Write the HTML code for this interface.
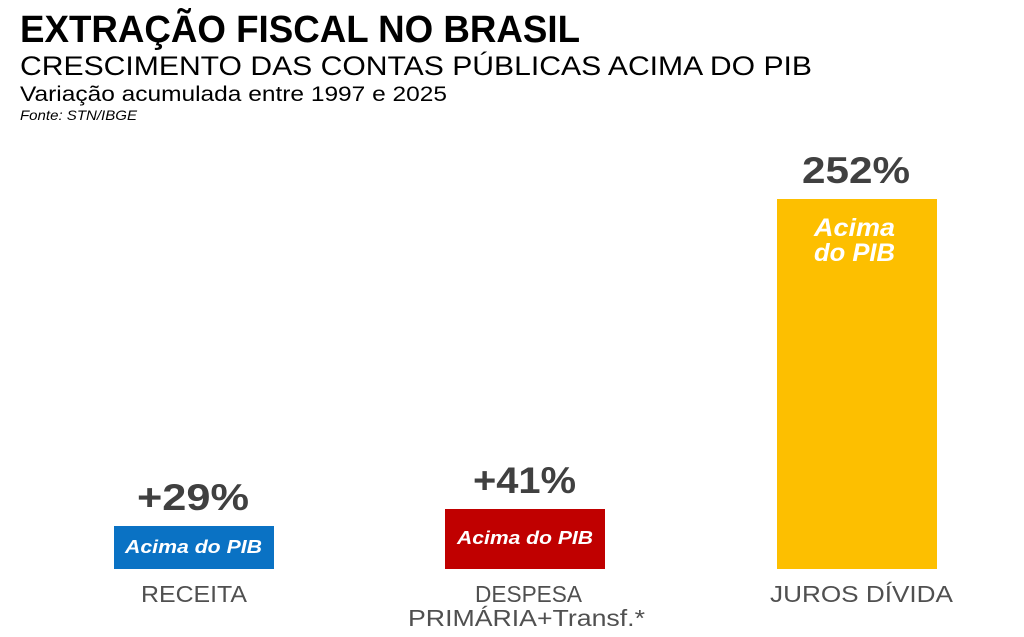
<!DOCTYPE html>
<html><head><meta charset="utf-8"><style>
html,body{margin:0;padding:0;background:#fff;}
svg{display:block;}
text{font-family:"Liberation Sans",sans-serif;}
</style></head><body>
<svg width="1024" height="637" viewBox="0 0 1024 637" xmlns="http://www.w3.org/2000/svg">
<rect width="1024" height="637" fill="#fff"/>
<text x="20" y="42" font-size="38" font-weight="bold" fill="#000" textLength="560" lengthAdjust="spacingAndGlyphs">EXTRAÇÃO FISCAL NO BRASIL</text>
<text x="20" y="75" font-size="27" fill="#000" textLength="792" lengthAdjust="spacingAndGlyphs">CRESCIMENTO DAS CONTAS PÚBLICAS ACIMA DO PIB</text>
<text x="20" y="101" font-size="21" fill="#000" textLength="427" lengthAdjust="spacingAndGlyphs">Variação acumulada entre 1997 e 2025</text>
<text x="20" y="120" font-size="14" font-style="italic" fill="#000" textLength="117" lengthAdjust="spacingAndGlyphs">Fonte: STN/IBGE</text>

<rect x="114" y="526" width="160" height="43" fill="#0a72c4"/>
<rect x="445" y="509" width="160" height="60" fill="#c00000"/>
<rect x="777" y="199" width="160" height="370" fill="#fdbf00"/>

<text x="137" y="510" font-size="37" font-weight="bold" fill="#404040" textLength="112" lengthAdjust="spacingAndGlyphs">+29%</text>
<text x="473" y="493" font-size="37" font-weight="bold" fill="#404040" textLength="103" lengthAdjust="spacingAndGlyphs">+41%</text>
<text x="802" y="183" font-size="37" font-weight="bold" fill="#404040" textLength="108" lengthAdjust="spacingAndGlyphs">252%</text>

<text x="125" y="553" font-size="18" font-weight="bold" font-style="italic" fill="#fff" textLength="137" lengthAdjust="spacingAndGlyphs">Acima do PIB</text>
<text x="457" y="544" font-size="18" font-weight="bold" font-style="italic" fill="#fff" textLength="136" lengthAdjust="spacingAndGlyphs">Acima do PIB</text>
<text x="814" y="236" font-size="25" font-weight="bold" font-style="italic" fill="#fff" textLength="81" lengthAdjust="spacingAndGlyphs">Acima</text>
<text x="814" y="261" font-size="25" font-weight="bold" font-style="italic" fill="#fff" textLength="81" lengthAdjust="spacingAndGlyphs">do PIB</text>

<text x="141" y="602" font-size="23" fill="#505050" textLength="106" lengthAdjust="spacingAndGlyphs">RECEITA</text>
<text x="475" y="602" font-size="23" fill="#505050" textLength="107" lengthAdjust="spacingAndGlyphs">DESPESA</text>
<text x="408" y="626" font-size="23" fill="#505050" textLength="237" lengthAdjust="spacingAndGlyphs">PRIMÁRIA+Transf.*</text>
<text x="770" y="602" font-size="23" fill="#505050" textLength="183" lengthAdjust="spacingAndGlyphs">JUROS DÍVIDA</text>
</svg>
</body></html>
